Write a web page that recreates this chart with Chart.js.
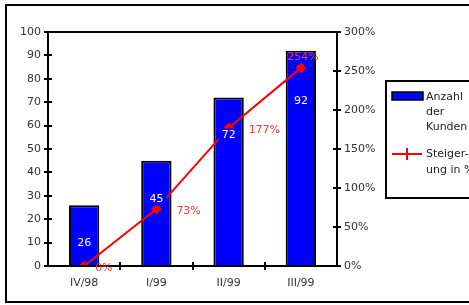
<!DOCTYPE html>
<html>
<head>
<meta charset="utf-8">
<script src="https://cdn.jsdelivr.net/npm/chart.js@4"></script>
<style>
  html, body { margin: 0; padding: 0; background: #fff; }
  #wrap { width: 469px; height: 305px; }
</style>
</head>
<body>
<div id="wrap"><canvas id="kundenGrafico" width="469" height="305"></canvas></div>
<script>
var quartale = ['IV/98', 'I/99', 'II/99', 'III/99'];
var kunden = [26, 45, 72, 92];
var steigerung = [0, 73, 177, 254];
var linkeTicks = [0, 10, 20, 30, 40, 50, 60, 70, 80, 90, 100];
var rechteTicks = [0, 50, 100, 150, 200, 250, 300];

var schrift = '"DejaVu Sans", sans-serif';

// Rahmen, Achsenstriche, Beschriftungen und Legende
var extras = {
    id: 'extras',
    beforeDraw: function (chart) {
        var c = chart.ctx;
        c.save();
        c.fillStyle = '#fff';
        c.fillRect(0, 0, chart.width, chart.height);
        c.strokeStyle = '#000';
        c.lineWidth = 2;
        c.strokeRect(6, 5, chart.width + 10, chart.height - 8);
        c.restore();
    },
    afterDatasetsDraw: function (chart) {
        var c = chart.ctx;
        var a = chart.chartArea;
        var y = chart.scales.y, y1 = chart.scales.y1, x = chart.scales.x;
        c.save();
        c.strokeStyle = '#000';
        c.lineWidth = 2;
        c.beginPath();
        c.moveTo(a.left, a.top); c.lineTo(a.right, a.top);
        c.moveTo(a.left, a.top); c.lineTo(a.left, a.bottom);
        c.moveTo(a.right, a.top); c.lineTo(a.right, a.bottom);
        c.moveTo(a.left, a.bottom); c.lineTo(a.right, a.bottom);
        c.stroke();
        c.beginPath();
        linkeTicks.forEach(function (v) {
            var py = Math.round(y.getPixelForValue(v));
            c.moveTo(a.left - 4, py); c.lineTo(a.left + 4, py);
        });
        rechteTicks.forEach(function (v) {
            var py = Math.round(y1.getPixelForValue(v));
            c.moveTo(a.right - 4, py); c.lineTo(a.right + 4, py);
        });
        for (var i = 1; i < quartale.length; i++) {
            var px = Math.round((x.getPixelForValue(i - 1) + x.getPixelForValue(i)) / 2);
            c.moveTo(px, a.bottom - 4); c.lineTo(px, a.bottom + 4);
        }
        c.stroke();

        // Werte in den Balken (mit blauem Hintergrund, verdeckt die Linie)
        c.font = '11px ' + schrift;
        c.textAlign = 'center';
        c.textBaseline = 'middle';
        chart.getDatasetMeta(0).data.forEach(function (bar, i) {
            var t = String(kunden[i]);
            var ly = i === kunden.length - 1 ? bar.y + 50 : bar.y + 38;
            var w = c.measureText(t).width + 6;
            c.fillStyle = '#0000ff';
            c.fillRect(bar.x - w / 2, ly - 7, w, 14);
            c.fillStyle = '#fff';
            c.fillText(t, bar.x, ly);
        });
        // Prozentwerte
        c.fillStyle = '#ff3333';
        var pts = chart.getDatasetMeta(1).data;
        pts.forEach(function (p, i) {
            var txt = steigerung[i] + '%';
            if (i === pts.length - 1) {
                c.textAlign = 'center';
                c.fillText(txt, p.x + 2, p.y - 11);
            } else {
                c.textAlign = 'left';
                c.fillText(txt, p.x + (i === 0 ? 11 : 20), p.y + 2);
            }
        });

        // Legende
        c.strokeStyle = '#000';
        c.lineWidth = 2;
        c.strokeRect(386, 81, 100, 117);
        c.fillStyle = '#0000ff';
        c.fillRect(392, 92, 31, 8);
        c.lineWidth = 1.5;
        c.strokeRect(392, 92, 31, 8);
        c.strokeStyle = '#ff0000';
        c.lineWidth = 2;
        c.beginPath();
        c.moveTo(392, 154); c.lineTo(422, 154);
        c.moveTo(407, 148); c.lineTo(407, 160);
        c.stroke();
        c.fillStyle = '#222';
        c.textAlign = 'left';
        c.font = '11px ' + schrift;
        c.fillText('Anzahl', 426, 97);
        c.fillText('der', 426, 112);
        c.fillText('Kunden', 426, 127);
        c.fillText('Steiger-', 426, 154);
        c.fillText('ung in %', 426, 170);
        c.restore();
    }
};

var ctx = document.getElementById('kundenGrafico').getContext('2d');
var kundenChart = new Chart(ctx, {
    data: {
        labels: quartale,
        datasets: [{
            type: 'bar',
            label: 'Anzahl der Kunden',
            data: kunden,
            yAxisID: 'y',
            backgroundColor: '#0000ff',
            borderColor: '#000',
            borderWidth: 2,
            borderSkipped: 'bottom',
            barPercentage: 0.42,
            categoryPercentage: 1.0,
            order: 2
        }, {
            type: 'line',
            label: 'Steigerung in %',
            data: steigerung,
            yAxisID: 'y1',
            borderColor: '#ff0000',
            backgroundColor: '#ff0000',
            borderWidth: 2,
            pointStyle: 'rectRot',
            pointRadius: 4,
            tension: 0,
            order: 1
        }]
    },
    options: {
        responsive: false,
        animation: false,
        layout: { padding: { left: 6, top: 32, right: 82, bottom: 14 } },
        plugins: { legend: { display: false }, tooltip: { enabled: false } },
        scales: {
            x: {
                grid: { display: false, drawTicks: false },
                border: { display: false },
                ticks: { color: '#333', font: { family: schrift, size: 11 }, padding: 11 },
                afterFit: function (s) { s.height = 25; }
            },
            y: {
                position: 'left',
                min: 0, max: 100,
                afterBuildTicks: function (s) { s.ticks = linkeTicks.map(function (v) { return { value: v }; }); },
                grid: { display: false, drawTicks: false },
                border: { display: false },
                ticks: { color: '#333', font: { family: schrift, size: 11 }, padding: 7 },
                afterFit: function (s) { s.width = 42; }
            },
            y1: {
                position: 'right',
                min: 0, max: 300,
                afterBuildTicks: function (s) { s.ticks = rechteTicks.map(function (v) { return { value: v }; }); },
                grid: { display: false, drawTicks: false },
                border: { display: false },
                ticks: {
                    color: '#333', font: { family: schrift, size: 11 }, padding: 7,
                    callback: function (v) { return v + '%'; }
                },
                afterFit: function (s) { s.width = 50; }
            }
        }
    },
    plugins: [extras]
});
</script>
</body>
</html>
